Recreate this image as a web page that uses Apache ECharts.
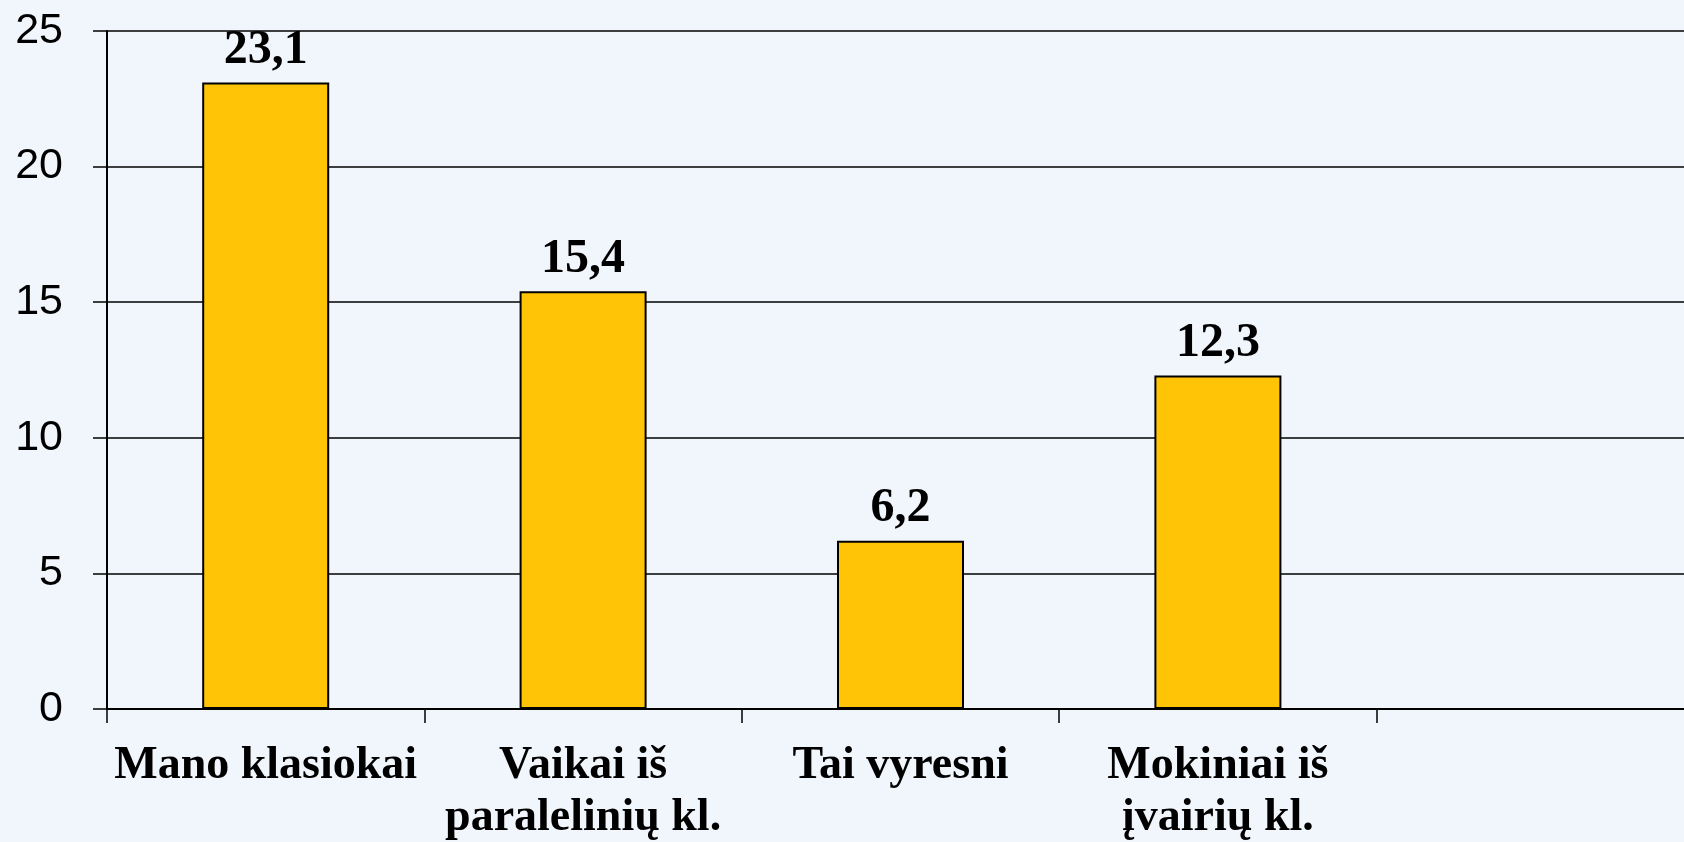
<!DOCTYPE html>
<html><head><meta charset="utf-8">
<script src="https://cdn.jsdelivr.net/npm/echarts@6/dist/echarts.min.js"></script>
<style>html,body{margin:0;padding:0;background:#F1F5FC}#c{width:1684px;height:842px}</style>
</head><body><div id="c"></div>
<script>
const categories = ['Mano klasiokai', 'Vaikai iš\nparalelinių kl.', 'Tai vyresni', 'Mokiniai iš\nįvairių kl.', ''];
const values = [23.1, 15.4, 6.2, 12.3, null];
const yTicks = [0, 5, 10, 15, 20, 25];

const chart = echarts.init(document.getElementById('c'));
chart.setOption({
  backgroundColor: '#F1F5FC',
  animation: false,
  grid: { left: 107, width: 1587, top: 31, height: 678, containLabel: false, outerBoundsMode: 'none' },
  xAxis: {
    type: 'category',
    data: categories,
    boundaryGap: true,
    axisLine: { show: true, lineStyle: { color: '#000', width: 2 } },
    axisTick: { show: true, length: 14, lineStyle: { color: '#000', width: 1.5 }, interval: 0 },
    axisLabel: {
      interval: 0, margin: 31,
      fontFamily: 'Liberation Serif', fontWeight: 'bold', fontSize: 46,
      lineHeight: 52, color: '#000'
    }
  },
  yAxis: {
    type: 'value',
    min: yTicks[0], max: yTicks[yTicks.length - 1], interval: 5,
    axisLine: { show: true, lineStyle: { color: '#000', width: 2 } },
    axisTick: { show: true, length: 14, lineStyle: { color: '#000', width: 1.5 } },
    splitLine: { show: true, lineStyle: { color: '#000', width: 1.5 } },
    axisLabel: { margin: 44, fontFamily: 'Liberation Sans', fontSize: 43, color: '#000' }
  },
  series: [{
    type: 'bar',
    data: values,
    barWidth: 127,
    itemStyle: { color: '#FFC406', borderColor: '#000', borderWidth: 2 },
    label: {
      show: true, position: 'top', distance: 8,
      fontFamily: 'Liberation Serif', fontWeight: 'bold', fontSize: 48, color: '#000',
      formatter: p => p.value == null ? '' : String(p.value).replace('.', ',')
    }
  }]
});
</script></body></html>
